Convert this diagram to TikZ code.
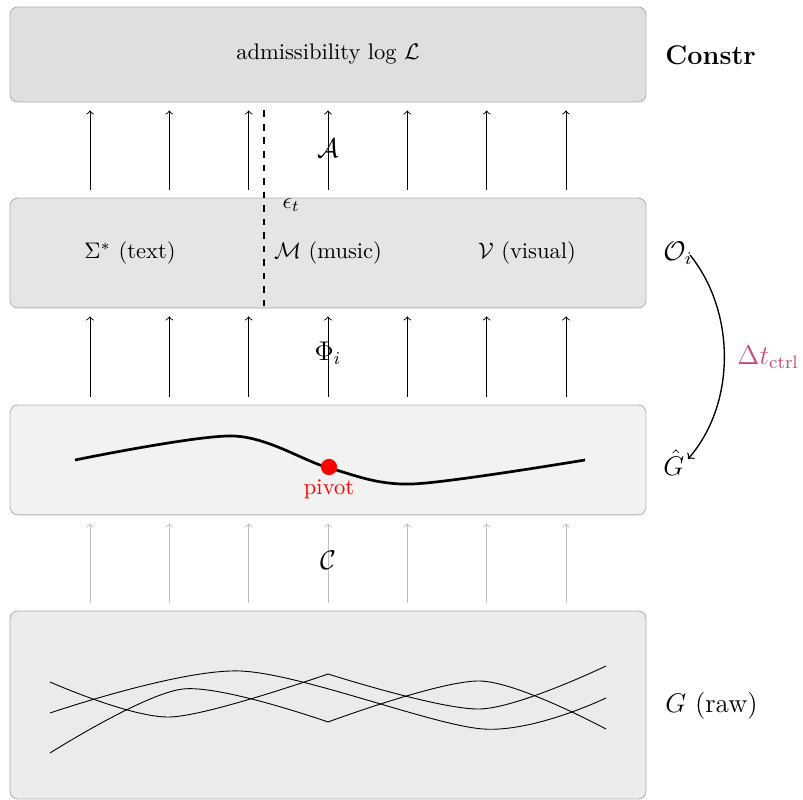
\documentclass[tikz,border=0pt]{standalone}
\usepackage{amsmath,amssymb}
\definecolor{pinkc}{RGB}{204,72,122}
\begin{document}
\begin{tikzpicture}[x=0.444pt,y=0.444pt,
  box/.style={draw=black!30, line width=0.4pt, rounded corners=3.5pt, minimum width=282.4pt, inner sep=0pt},
  up/.style={->, shorten <=3.55pt, shorten >=3.55pt},
  upg/.style={up, draw=black!25},
  side/.style={anchor=west, font=\large, inner sep=0pt},
  lbl/.style={font=\large, inner sep=1pt}]
\useasboundingbox (0,0) rectangle (803,800);
% boxes
\node[box, fill=black!12.5, minimum height=42.2pt] (top) at (328,745.5) {admissibility log $\mathcal{L}$};
\node[box, fill=black!10, minimum height=48.8pt] (mid) at (328,547) {};
\node[box, fill=black!5, minimum height=48.8pt] (gh) at (328,340) {};
\node[box, fill=black!8, minimum height=83.5pt] (raw) at (328,95) {};
% middle texts
\node (txt) at (130,547) {$\Sigma^{*}$ (text)};
\node (mus) at (328,547) {$\mathcal{M}$ (music)};
\node (vis) at (527,547) {$\mathcal{V}$ (visual)};
% arrows
\foreach \k in {1,...,7}{
  \pgfmathsetmacro\xx{328+79.33*(\k-4)}
  \coordinate (c\k) at (\xx,0);
  \draw[up] (mid.north -| c\k) -- (top.south -| c\k);
  \draw[up] (gh.north -| c\k) -- (mid.south -| c\k);
  \draw[upg] (raw.north -| c\k) -- (gh.south -| c\k);
}
% dashed separator
\coordinate (d0) at (264,0);
\draw[thick, dashed] ([yshift=-3.55pt]top.south -| d0) -- (mid.south -| d0);
\node[anchor=west, inner sep=1pt] (eps) at (280,595) {$\epsilon_t$};
% layer labels
\node[lbl] (lA) at (328,652) {$\mathcal{A}$};
\node[lbl] (lPhi) at (328,447) {$\Phi_i$};
\node[lbl] (lC) at (328,240) {$\mathcal{C}$};
% right labels
\node[side, font=\large\bfseries] (constr) at (665,745) {Constr};
\node[side] (oi) at (663,547) {$\mathcal{O}_i$};
\node[side] (ghat) at (663,337) {$\hat{G}$};
\node[side] (graw) at (665,94) {$G$ (raw)};
\node[side, text=pinkc] (dt) at (737,443) {$\Delta t_{\mathrm{ctrl}}$};
% feedback arc
\coordinate (s) at (690,545);
\coordinate (e) at (688,341);
\draw[->, semithick] (s) .. controls +(46,-57) and +(48,55) .. (e);
% G hat curve
\draw[line width=1.2pt] plot[smooth] coordinates {(75,340) (233,364) (329,332) (412,316) (585,340)};
\fill[red] (329,333) circle (3.6pt) coordinate (pv);
\node[text=red, inner sep=0pt] (pivot) at (329,311) {pivot};
% raw curves
\draw plot[smooth] coordinates {(50,118) (170,83) (328,126)};
\draw plot[smooth] coordinates {(328,126) (480,91) (606,134)};
\draw plot[smooth] coordinates {(50,87) (240,129) (483,71) (606,102)};
\draw plot[smooth] coordinates {(50,47) (183,111) (328,78)};
\draw plot[smooth] coordinates {(328,78) (480,119) (606,71)};
\end{tikzpicture}
\end{document}
